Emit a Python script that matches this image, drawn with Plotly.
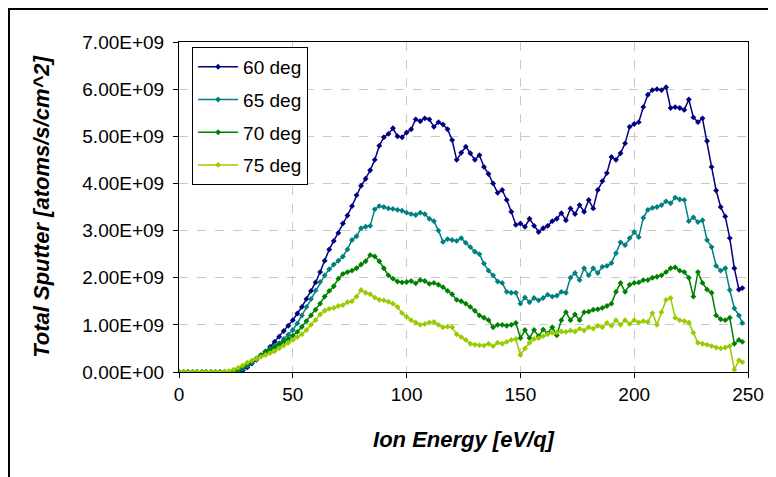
import plotly.graph_objects as go

# Ion energy grid [eV/q]
energy = list(range(0, 248, 2)) + [247.5]

# Total sputter values in units of 1e9 atoms/s/cm^2
deg60 = [0, 0, 0, 0, 0, 0, 0, 0, 0, 0, 0, 0, 0,
         0.0, 0.03, 0.1, 0.18, 0.26, 0.34, 0.43, 0.53, 0.64, 0.75, 0.87, 0.98,
         1.1, 1.24, 1.38, 1.55, 1.72, 1.9, 2.12, 2.36, 2.6, 2.78, 2.95, 3.15,
         3.32, 3.52, 3.75, 3.95, 4.1, 4.28, 4.5, 4.8, 4.98, 5.05, 5.17, 5.0,
         4.98, 5.08, 5.15, 5.36, 5.32, 5.38, 5.36, 5.2, 5.3, 5.25, 5.15, 4.92,
         4.5, 4.65, 4.78, 4.64, 4.5, 4.6, 4.35, 4.2, 4.0, 3.8, 3.86, 3.65,
         3.4, 3.12, 3.15, 3.08, 3.25, 3.1, 2.97, 3.05, 3.1, 3.2, 3.25, 3.37,
         3.22, 3.47, 3.35, 3.54, 3.4, 3.65, 3.47, 3.86, 4.05, 4.22, 4.56, 4.5,
         4.64, 4.85, 5.2, 5.26, 5.3, 5.62, 5.88, 5.98, 6.0, 5.98, 6.04, 5.6,
         5.62, 5.6, 5.56, 5.78, 5.4, 5.3, 5.38, 4.9, 4.35, 3.85, 3.5, 3.3,
         2.84, 2.2, 1.75, 1.78]

deg65 = [0, 0, 0, 0, 0, 0, 0, 0, 0, 0, 0, 0, 0,
         0.02, 0.07, 0.13, 0.2, 0.28, 0.36, 0.44, 0.5, 0.56, 0.61, 0.7, 0.79,
         0.89, 1.03, 1.2, 1.38, 1.55, 1.73, 1.91, 2.05, 2.18, 2.28, 2.36, 2.45,
         2.6, 2.8, 2.88, 3.05, 3.08, 3.1, 3.45, 3.52, 3.5, 3.47, 3.46, 3.44,
         3.42, 3.38, 3.35, 3.33, 3.38, 3.35, 3.25, 3.2, 3.0, 2.76, 2.82, 2.8,
         2.78, 2.84, 2.74, 2.65, 2.55, 2.5, 2.3, 2.15, 2.05, 1.92, 1.89, 1.7,
         1.68, 1.68, 1.45, 1.58, 1.48, 1.57, 1.52, 1.57, 1.64, 1.6, 1.62, 1.7,
         1.68, 2.0, 2.1, 1.95, 2.2, 2.05, 2.2, 2.1, 2.23, 2.25, 2.31, 2.52,
         2.75, 2.69, 2.84, 2.97, 2.86, 3.27, 3.44, 3.48, 3.5, 3.54, 3.62, 3.58,
         3.7, 3.66, 3.65, 3.2, 3.28, 3.18, 3.22, 2.8, 2.65, 2.25, 2.15, 2.2,
         1.74, 1.35, 1.2, 1.04]

deg70 = [0, 0, 0, 0, 0, 0, 0, 0, 0, 0, 0, 0,
         0.02, 0.06, 0.11, 0.16, 0.22, 0.29, 0.35, 0.42, 0.47, 0.52, 0.58, 0.63,
         0.7, 0.77, 0.85, 0.96, 1.08, 1.2, 1.32, 1.45, 1.6, 1.72, 1.82, 1.98,
         2.08, 2.12, 2.15, 2.2, 2.28, 2.35, 2.48, 2.45, 2.35, 2.2, 2.05, 1.98,
         1.92, 1.9, 1.91, 1.93, 1.88, 1.95, 1.93, 1.87, 1.89, 1.85, 1.8, 1.72,
         1.65, 1.53, 1.5, 1.45, 1.38, 1.3, 1.2, 1.15, 1.1, 0.95, 1.0, 1.0,
         0.98, 1.0, 1.04, 0.72, 0.89, 0.72, 0.89, 0.76, 0.9, 0.82, 0.95, 0.78,
         1.1, 1.27, 1.1, 1.22, 1.1, 1.27, 1.28, 1.32, 1.33, 1.36, 1.4, 1.45,
         1.7, 1.89, 1.7, 1.85, 1.89, 1.9, 1.95, 1.95, 2.0, 2.02, 2.05, 2.12,
         2.2, 2.22, 2.15, 2.12, 2.0, 1.6, 2.12, 1.89, 1.75, 1.68, 1.2, 1.12,
         1.1, 1.15, 0.6, 0.68, 0.64]

deg75 = [0, 0, 0, 0, 0, 0, 0, 0, 0, 0, 0,
         0.02, 0.05, 0.09, 0.14, 0.2, 0.24, 0.28, 0.32, 0.36, 0.4, 0.44, 0.5,
         0.56, 0.62, 0.68, 0.74, 0.8, 0.89, 1.0, 1.1, 1.22, 1.3, 1.34, 1.36,
         1.4, 1.42, 1.48, 1.5, 1.6, 1.74, 1.68, 1.65, 1.58, 1.53, 1.52, 1.49,
         1.45, 1.38, 1.25, 1.17, 1.1, 1.05, 1.0, 1.02, 1.05, 1.06, 1.0, 0.95,
         0.96, 0.95, 0.8, 0.74, 0.68, 0.6, 0.58, 0.57, 0.56, 0.6, 0.55, 0.62,
         0.6, 0.64, 0.68, 0.7, 0.36, 0.5, 0.62, 0.7, 0.72, 0.76, 0.8, 0.83,
         0.84, 0.86, 0.85, 0.88, 0.86, 0.92, 0.88, 0.95, 0.92, 0.98, 0.95, 1.04,
         0.98, 1.1, 1.0, 1.1, 1.02, 1.1, 1.05, 1.08, 1.06, 1.25, 1.0, 1.27,
         1.53, 1.57, 1.15, 1.1, 1.08, 1.05, 0.83, 0.62, 0.6, 0.58, 0.55, 0.52,
         0.5, 0.52, 0.55, 0.05, 0.25, 0.21]

series_names = ["60 deg", "65 deg", "70 deg", "75 deg"]
series_values = [deg60, deg65, deg70, deg75]
series_colors = ["#000080", "#008080", "#008000", "#99cc00"]

y_tick_vals = [0, 1e9, 2e9, 3e9, 4e9, 5e9, 6e9, 7e9]
y_tick_text = ["0.00E+00", "1.00E+09", "2.00E+09", "3.00E+09",
               "4.00E+09", "5.00E+09", "6.00E+09", "7.00E+09"]
x_tick_vals = [0, 50, 100, 150, 200, 250]

SCALE = 1e9

fig = go.Figure()
for i, (name, vals, col) in enumerate(zip(series_names, series_values, series_colors)):
    fig.add_trace(go.Scatter(
        x=energy, y=[v * SCALE for v in vals], name=name,
        mode="lines+markers", legendgroup=name,
        line=dict(color=col, width=1.5),
        marker=dict(color=col, size=4.5, symbol="diamond"),
    ))

font_family = "Liberation Sans, Arial, sans-serif"

# the page body adds an 8px offset, so the figure is 768x469
fig.update_layout(
    width=768, height=469,
    paper_bgcolor="white", plot_bgcolor="white",
    margin=dict(l=171, r=28, t=34, b=105),
    font=dict(family=font_family, size=18, color="black"),
    showlegend=True,
    legend=dict(
        x=0.023, y=0.985, xanchor="left", yanchor="top",
        bgcolor="white", bordercolor="black", borderwidth=1,
        font=dict(size=19, family=font_family, color="black"),
        tracegroupgap=5, traceorder="grouped",
        itemwidth=40,
    ),
    xaxis=dict(
        range=[0, 250], tickvals=x_tick_vals, automargin=False,
        showline=True, linecolor="black", linewidth=1, mirror=True,
        ticks="outside", ticklen=5, tickcolor="black",
        showgrid=True, gridcolor="#c8c8c8", griddash="dash", gridwidth=1,
        zeroline=False,
        tickfont=dict(size=19),
        title=dict(text="<b><i>Ion Energy [eV/q]</i></b>", font=dict(size=22), standoff=27),
    ),
    yaxis=dict(
        range=[0, 7e9], tickvals=y_tick_vals, ticktext=y_tick_text, automargin=False,
        showline=True, linecolor="black", linewidth=1, mirror=True,
        ticks="outside", ticklen=5, tickcolor="black",
        ticklabelstandoff=5,
        showgrid=True, gridcolor="#c8c8c8", griddash="dash", gridwidth=1,
        zeroline=False,
        tickfont=dict(size=19),
        title=dict(text="<b><i>Total Sputter [atoms/s/cm^2]</i></b>", font=dict(size=22), standoff=26),
    ),
)

# outer chart frame
fig.add_shape(type="rect", xref="paper", yref="paper",
              x0=-0.2988, x1=1.06, y0=-0.33, y1=1.1,
              line=dict(color="black", width=2), fillcolor="rgba(0,0,0,0)", layer="above")

fig.write_html("out.html")
